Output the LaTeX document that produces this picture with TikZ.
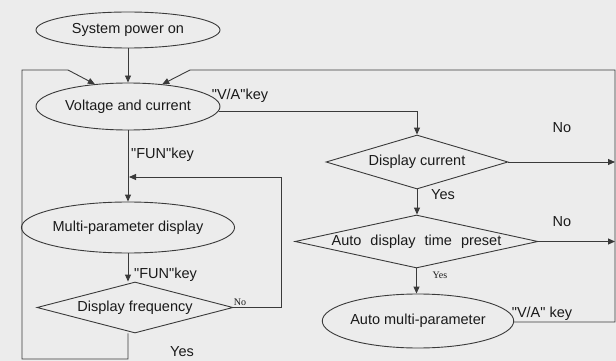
\documentclass[tikz,border=0pt]{standalone}
\usepackage{fontspec}
\setmainfont{Liberation Sans}[Ligatures=TeXOff]
\newfontfamily\smallserif{Liberation Serif}
\usetikzlibrary{shapes.geometric,arrows.meta}
\definecolor{bgc}{HTML}{ECECEC}
\definecolor{linec}{HTML}{3A3A3A}
\definecolor{txtc}{HTML}{1A1A1A}
\tikzset{
  ell/.style={ellipse,draw=linec,line width=0.9pt,inner sep=0pt,text=txtc,font=\fontsize{14.5}{16}\selectfont},
  dia/.style={diamond,draw=linec,line width=0.9pt,inner sep=0pt,text=txtc,font=\fontsize{14.5}{16}\selectfont},
  lbl/.style={text=txtc,inner sep=0pt,font=\fontsize{14.5}{16}\selectfont},
  slbl/.style={text=txtc,inner sep=0pt,font=\smallserif\fontsize{10}{11}\selectfont},
  ln/.style={draw=linec,line width=0.9pt},
  arr/.style={ln,-{Triangle[length=7pt,width=6pt]}}
}
\begin{document}
\begin{tikzpicture}[x=1pt,y=-1pt]
\fill[bgc] (0,0) rectangle (616,361);
\useasboundingbox (0,0) rectangle (616,361);
% nodes
\node[ell,minimum width=184pt,minimum height=36pt] (power) at (128,30) {System power on};
\node[ell,minimum width=184pt,minimum height=47pt] (volt) at (128,106.5) {Voltage and current};
\node[ell,minimum width=184pt,minimum height=51pt] (multi) at (128,227.5) {Multi-parameter display};
\node[dia,aspect=3.8,minimum width=196pt,minimum height=51pt] (freq) at (135,307.5) {Display frequency};
\node[dia,aspect=3.4,minimum width=182pt,minimum height=54pt] (dcur) at (417,162) {Display current};
\node[dia,aspect=4.6,minimum width=243pt,minimum height=53pt] (auto) at (416.5,241.5) {Auto\hspace{9pt}display\hspace{9pt}time\hspace{9pt}preset};
\node[ell,minimum width=184pt,minimum height=54pt] (amp) at (418,321) {Auto multi-parameter};
% corner coordinates
\coordinate (lb) at (22,359);
\coordinate (lt) at (22,70);
\coordinate (lk) at (68,70);
\coordinate (rt) at (615,70);
\coordinate (rk) at (190,70);
\coordinate (rb) at (615,322);
\coordinate (fb) at (281,177);
% connectors
\draw[arr] (power.south) -- (volt.north);
\draw[arr] (volt.south |- freq.south) -- (volt.south |- lb) -- (lb) -- (lt) -- (lk) -- (volt.146);
\draw[arr] (amp.east |- rb) -- (rb) -- (rt) -- (rk) -- (volt.33);
\draw[arr] (volt.-3) -| (dcur.north);
\draw[arr] (volt.south) -- (multi.north);
\draw[arr] (freq.east) -| (fb) -- ([xshift=1pt]volt.south |- fb);
\draw[arr] (multi.south) -- (multi.south |- freq.north);
\draw[arr] (dcur.south) -- (dcur.south |- auto.north);
\draw[arr] (dcur.east) -- (dcur.east -| rt);
\draw[arr] (auto.east) -- (auto.east -| rt);
\draw[arr] (auto.south) -- (auto.south |- amp.north);
% labels
\node[lbl] (lva1) at (240,96) {"V/A"key};
\node[lbl,anchor=west] (lfun1) at (131,155) {"FUN"key};
\node[lbl,anchor=west] (lfun2) at (134,275) {"FUN"key};
\node[slbl] (lno1) at (240,302) {No};
\node[lbl] (lyes1) at (182,352) {Yes};
\node[lbl] (lno2) at (562,128) {No};
\node[lbl] (lyes2) at (443,195) {Yes};
\node[lbl] (lno3) at (562,222) {No};
\node[slbl] (lyes3) at (440,275) {Yes};
\node[lbl] (lva2) at (542,314) {"V/A" key};
\end{tikzpicture}
\end{document}
